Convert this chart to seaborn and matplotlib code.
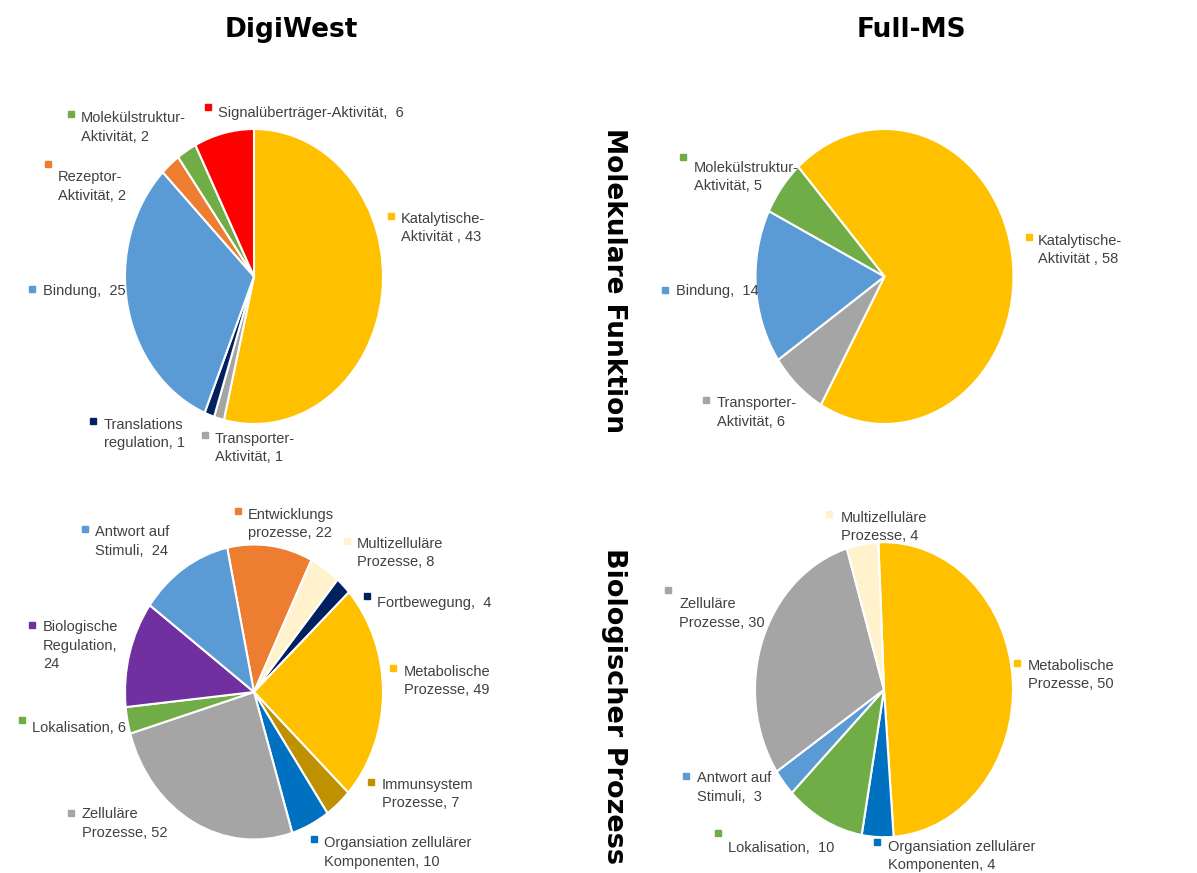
import matplotlib
matplotlib.use("Agg")
import matplotlib.pyplot as plt
from matplotlib.lines import Line2D
import seaborn as sns

# ---- data -------------------------------------------------------------
mf_digi_cats = ["Katalytische-\nAktivität ", "Transporter-\nAktivität", "Translations\nregulation",
                "Bindung,  ", "Rezeptor-\nAktivität", "Molekülstruktur-\nAktivität",
                "Signalüberträger-Aktivität,  "]
mf_digi_vals = [43, 1, 1, 25, 2, 2, 6]

mf_full_cats = ["Katalytische-\nAktivität ", "Transporter-\nAktivität", "Bindung,  ",
                "Molekülstruktur-\nAktivität"]
mf_full_vals = [58, 6, 14, 5]

bp_digi_cats = ["Entwicklungs\nprozesse", "Multizelluläre\nProzesse", "Fortbewegung,  ",
                "Metabolische\nProzesse", "Immunsystem\nProzesse",
                "Organsiation zellulärer\nKomponenten", "Zelluläre\nProzesse",
                "Lokalisation", "Biologische\nRegulation,\n", "Antwort auf\nStimuli,  "]
bp_digi_vals = [22, 8, 4, 49, 7, 10, 52, 6, 24, 24]

bp_full_cats = ["Metabolische\nProzesse", "Organsiation zellulärer\nKomponenten",
                "Lokalisation,  ", "Antwort auf\nStimuli,  ", "Zelluläre\nProzesse",
                "Multizelluläre\nProzesse"]
bp_full_vals = [50, 4, 10, 3, 30, 4]

col_titles = ["DigiWest", "Full-MS"]
row_titles = ["Molekulare Funktion", "Biologischer Prozess"]

# ---- style ------------------------------------------------------------
palette = {
    "Katalytische": "#FFC000", "Metabolische": "#FFC000",
    "Transporter": "#A5A5A5", "Zelluläre": "#A5A5A5",
    "Translations": "#002060", "Fortbewegung": "#002060",
    "Bindung": "#5B9BD5", "Antwort": "#5B9BD5",
    "Rezeptor": "#ED7D31", "Entwicklungs": "#ED7D31",
    "Molekülstruktur": "#70AD47", "Lokalisation": "#70AD47",
    "Signalüberträger": "#FF0000",
    "Multizelluläre": "#FFF2CC",
    "Immunsystem": "#BF9000",
    "Organsiation": "#0070C0",
    "Biologische": "#7030A0",
}


def color_of(cat):
    key = cat.replace("-", " ").replace("\n", " ").replace(",", " ").split()[0]
    return palette[key]


def label_of(cat, val):
    if cat.endswith(" ") and "," in cat or cat.endswith(",\n"):
        return f"{cat}{val}"
    return f"{cat}, {val}"


W, H = 1197, 873
sns.set_theme(style="white")
plt.rcParams["font.family"] = ["Liberation Sans", "DejaVu Sans"]

fig = plt.figure(figsize=(W / 100, H / 100), dpi=100)


def fx(x):
    return x / W


def fy(y):
    return 1 - y / H


# pie geometry in pixels: centre x, centre y, start angle,
# then label layout (marker x, marker y, text x, first line y) in category order
RX, RY = 129, 147.5
charts = [
    (mf_digi_cats, mf_digi_vals, 254, 276.5, 90,
     [(391, 216, 401, 217), (205, 435, 215, 437), (93, 421, 104, 423), (32, 289, 43, 290),
      (48, 164, 58, 176), (71, 114, 81, 117), (208, 107, 218, 112)]),
    (mf_full_cats, mf_full_vals, 884.5, 276.5, 132,
     [(1029, 237, 1038, 239), (706, 400, 717, 402), (665, 290, 676, 290), (683, 157, 694, 166)]),
    (bp_digi_cats, bp_digi_vals, 254, 692, 102,
     [(238, 511, 248, 513), (347, 541, 357, 542), (367, 596, 377, 602), (393, 668, 404, 670),
      (371, 782, 382, 783), (314, 839, 324, 842), (71, 813, 82, 813), (22, 720, 32, 727),
      (32, 625, 43, 626), (85, 529, 95, 531)]),
    (bp_full_cats, bp_full_vals, 884, 689.7, 92.5,
     [(1017, 663, 1028, 664), (877, 842, 888, 845), (718, 833, 728, 846), (686, 776, 697, 777),
      (668, 590, 679, 603), (829, 514, 841, 516)]),
]

for cats, vals, cx, cy, start, pos in charts:
    ax = fig.add_axes([fx(cx - RX), fy(cy + RY), 2 * RX / W, 2 * RY / H])
    colors = [color_of(c) for c in cats]
    ax.pie(vals, colors=colors, startangle=start, counterclock=False,
           wedgeprops=dict(edgecolor="white", linewidth=1.5))
    ax.set_aspect("auto")
    ax.set_xlim(-1, 1)
    ax.set_ylim(-1, 1)
    ax.axis("off")
    for c, v, col, (mx, my, tx, ty) in zip(cats, vals, colors, pos):
        fig.add_artist(Line2D([fx(mx)], [fy(my)], marker="s", ms=4.5, color=col,
                              transform=fig.transFigure))
        fig.text(fx(tx), fy(ty - 5.5), label_of(c, v), fontsize=10.5, color="#404040",
                 ha="left", va="top", linespacing=1.4)

for t, x in zip(col_titles, [291, 911]):
    fig.text(fx(x), fy(37), t, fontsize=19, fontweight="bold", family="DejaVu Sans",
             ha="center", va="baseline", color="black")

fig.text(fx(614), fy(280), row_titles[0], fontsize=19, fontweight="bold",
         family="DejaVu Sans", rotation=-90, ha="center", va="center", color="black")
fig.text(fx(614), fy(548), row_titles[1], fontsize=19.5, fontweight="bold",
         family="DejaVu Sans", rotation=-90, rotation_mode="anchor",
         ha="left", va="center", color="black")

fig.savefig("out.png", dpi=100)
